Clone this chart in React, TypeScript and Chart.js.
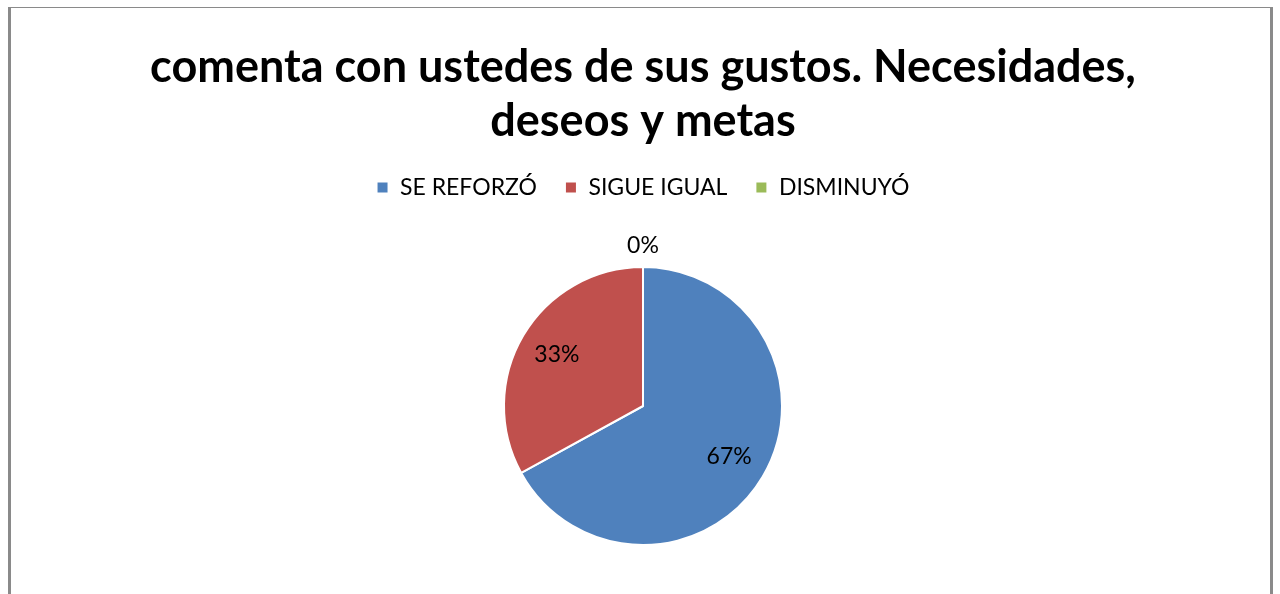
import React, { useEffect, useRef } from "react";
import { Chart, registerables } from "chart.js";

Chart.register(...registerables);

const titleLines = ["comenta con ustedes de sus gustos. Necesidades,", "deseos y metas"];
const categories = ["SE REFORZÓ", "SIGUE IGUAL", "DISMINUYÓ"];
const values = [67, 33, 0];
const percentLabels = ["67%", "33%", "0%"];
const colors = ["#4F81BD", "#C0504D", "#9BBB59"];

const FONT = "Lato, 'Open Sans', sans-serif";

const legendHeightPlugin = {
  id: "legendHeight",
  beforeInit(chart: any) {
    const legend = chart.legend;
    if (!legend) return;
    const orig = legend.fit;
    legend.fit = function () {
      orig.call(legend);
      legend.height = 118;
    };
  },
};

const pieLabels = {
  id: "pieLabels",
  afterDatasetsDraw(chart: any) {
    const ctx = chart.ctx;
    const meta = chart.getDatasetMeta(0);
    ctx.save();
    ctx.font = "23px " + FONT;
    ctx.fillStyle = "#000";
    ctx.textAlign = "center";
    ctx.textBaseline = "middle";
    meta.data.forEach((arc: any, i: number) => {
      const { x, y, startAngle, endAngle, outerRadius } = arc.getProps(
        ["x", "y", "startAngle", "endAngle", "outerRadius"],
        true
      );
      const mid = (startAngle + endAngle) / 2;
      const r = values[i] === 0 ? outerRadius + 21 : outerRadius * 0.72;
      ctx.fillText(percentLabels[i], x + Math.cos(mid) * r, y + Math.sin(mid) * r);
    });
    ctx.restore();
  },
};

export default function App() {
  const ref = useRef<HTMLCanvasElement>(null);
  useEffect(() => {
    if (!ref.current) return;
    const chart = new Chart(ref.current, {
      type: "pie",
      data: {
        labels: categories,
        datasets: [
          {
            data: values,
            backgroundColor: colors,
            borderColor: "#ffffff",
            borderWidth: 2,
          },
        ],
      },
      options: {
        animation: false,
        responsive: false,
        layout: { padding: { top: 0, bottom: 48, left: 6, right: 0 } },
        plugins: {
          title: {
            display: true,
            text: titleLines,
            color: "#000",
            font: { family: FONT, size: 45, weight: "bold", lineHeight: 1.2 },
            padding: { top: 40, bottom: 0 },
          },
          legend: {
            display: true,
            position: "top",
            labels: {
              color: "#000",
              font: { family: FONT, size: 23 },
              boxWidth: 12,
              boxHeight: 12,
              padding: 28,
            },
          },
          tooltip: { enabled: false },
        },
      },
      plugins: [legendHeightPlugin, pieLabels],
    });
    return () => chart.destroy();
  }, []);
  return (
    <div style={{ position: "fixed", left: 0, top: 0, width: 1280, height: 594, background: "#fff", overflow: "hidden" }}>
      <div
        style={{
          position: "absolute",
          left: 8,
          top: 7,
          width: 1259,
          height: 640,
          borderLeft: "3px solid #8a8a8a",
          borderTop: "1px solid #8a8a8a",
          borderRight: "3px solid #8a8a8a",
        }}
      />
      <canvas ref={ref} width={1280} height={594} style={{ position: "absolute", left: 0, top: 0 }} />
    </div>
  );
}
